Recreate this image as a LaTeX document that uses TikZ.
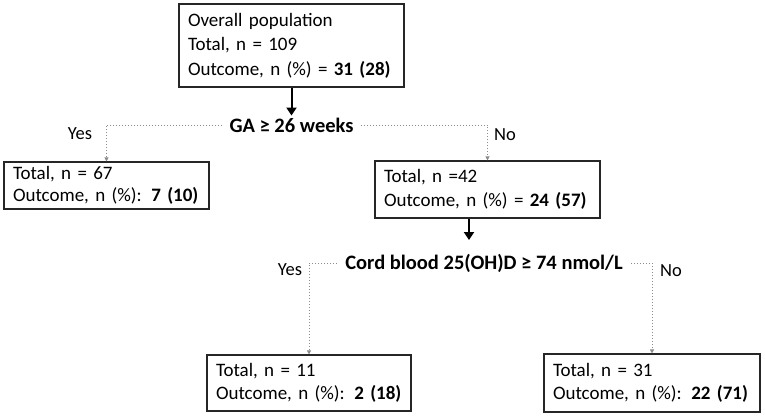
\documentclass[tikz,border=0pt]{standalone}
\usepackage{fontspec}
\setmainfont{Carlito}
\usetikzlibrary{arrows.meta}

\tikzset{
  infobox/.style={draw=black!85, line width=1.1pt, align=left, inner xsep=9pt, inner ysep=0pt,
    font=\fontsize{19}{23}\selectfont},
  condition/.style={draw=none, inner xsep=7pt, inner ysep=2pt, font=\fontsize{20.5}{23}\selectfont\bfseries},
  answer/.style={draw=none, inner sep=0pt, font=\fontsize{18.5}{22}\selectfont},
  mainarrow/.style={line width=2pt, -{Triangle[width=10pt,length=8pt]}},
  branch/.style={draw=black!45, dotted, line width=1pt, -{Triangle[width=4pt,length=4pt]}}
}

\begin{document}
\begin{tikzpicture}[x=1pt, y=-1pt]
             \useasboundingbox (0,0) rectangle (765,416);

             % boxes
             \node[infobox, text width=207pt, minimum height=83pt, font=\fontsize{19}{24.5}\selectfont] (all) at (291.5, 45.5)
               {Overall population\\Total, n = 109\\Outcome, n (\%) = \textbf{31 (28)}};
             \node[infobox, text width=187pt, minimum height=47pt, font=\fontsize{19}{21.5}\selectfont] (older) at (106.5, 185.5)
               {Total, n = 67\\Outcome, n (\%): \textbf{7 (10)}};
             \node[infobox, text width=207pt, minimum height=57pt, font=\fontsize{19}{24}\selectfont] (younger) at (487.5, 189.5)
               {Total, n =42\\Outcome, n (\%) = \textbf{24 (57)}};
             \node[infobox, text width=186pt, minimum height=56pt] (highvd) at (309, 383)
               {Total, n = 11\\Outcome, n (\%): \textbf{2 (18)}};
             \node[infobox, text width=198pt, minimum height=58pt] (lowvd) at (652, 383)
               {Total, n = 31\\Outcome, n (\%): \textbf{22 (71)}};

             % splits
             \node[condition] (ga) at (291.5, 125) {GA ≥ 26 weeks};
             \node[condition, inner xsep=8pt] (cord) at (484, 263) {Cord blood 25(OH)D ≥ 74 nmol/L};
             \coordinate (cordtip) at (469, 240);

             \node[answer] (gayes) at (80, 134) {Yes};
             \node[answer] (gano) at (505, 135) {No};
             \node[answer] (cordyes) at (290, 270) {Yes};
             \node[answer] (cordno) at (671, 271) {No};

             \draw[mainarrow] (all.south) -- (ga.north);
             \draw[mainarrow] (younger.south -| cordtip) -- (cordtip);

             \draw[branch] (ga.west) -| (older.north);
             \draw[branch] (ga.east) -| (younger.north);
             \draw[branch] (cord.west) -| (highvd.north);
             \draw[branch] (cord.east) -| (lowvd.north);
\end{tikzpicture}
\end{document}
